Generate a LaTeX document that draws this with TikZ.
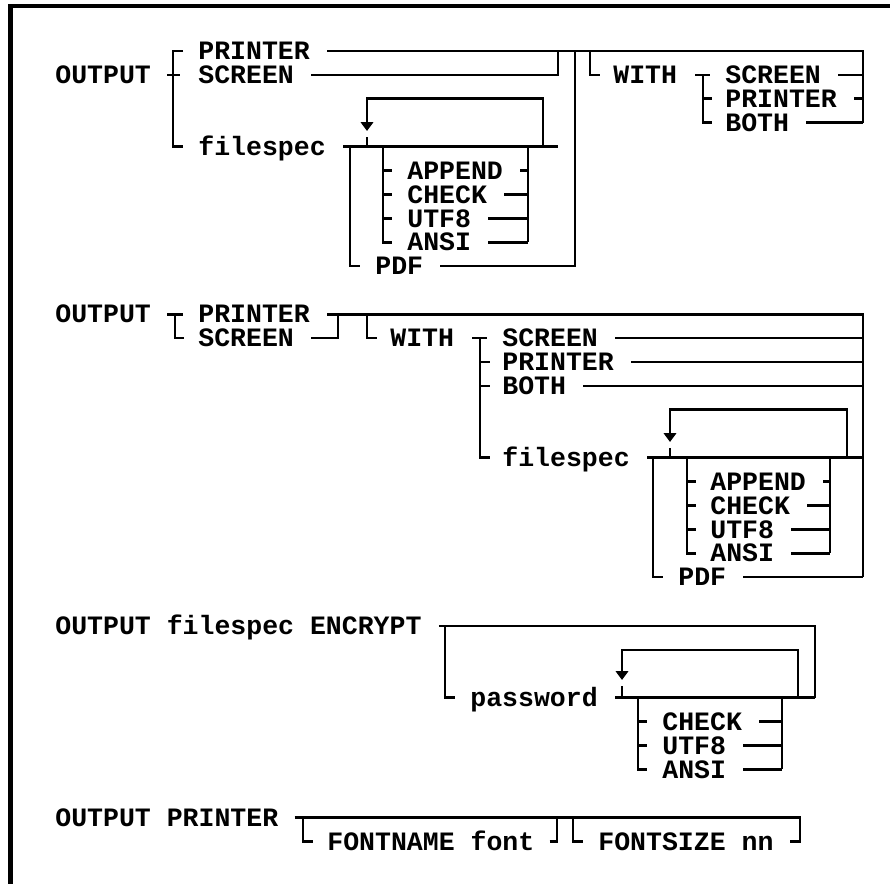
\documentclass[tikz,border=0pt]{standalone}
\usepackage{fontspec}
\usepackage{tikz}
\usetikzlibrary{arrows.meta}
\usetikzlibrary{math}
\newfontfamily\dosfamily{Liberation Mono}
\newcommand\kwfont{\dosfamily\bfseries\fontsize{15.1}{15.1}\selectfont}
\newlength\capht

\tikzset{
  kw/.style={font=\kwfont, inner sep=0pt, anchor=west, text height=\capht, text depth=0pt},
  rail/.style={line width=1.5pt, line join=miter},
  frame/.style={line width=2.3pt},
  loopback/.style={rail, -{Triangle[length=5pt,width=7pt]}},
}

\begin{document}
\settoheight{\capht}{\kwfont H}
\begin{tikzpicture}[x=0.02cm, y=-0.02cm]
\tikzmath{
\g=17;
}
\useasboundingbox (0,0) rectangle (890,884);
\draw[frame] (10.5,884) -- (10.5,6) -- (890,6);

% OUTPUT PRINTER | SCREEN | filespec ... [WITH ...]
\node[kw] (out1) at (55,74.9) {OUTPUT};
\node[kw] (pr1) at (198,51) {PRINTER};
\node[kw] (sc1) at (198,74.9) {SCREEN};
\node[kw] (fs1) at (198,146.6) {filespec};
\node[kw] (ap1) at (407,170.5) {APPEND};
\node[kw] (ch1) at (407,194.4) {CHECK};
\node[kw] (ut1) at (407,218.3) {UTF8};
\node[kw] (an1) at (407,242.2) {ANSI};
\node[kw] (pdf1) at (375,266.1) {PDF};
\node[kw] (wi1) at (613,74.9) {WITH};
\node[kw] (ws1) at (725,74.9) {SCREEN};
\node[kw] (wp1) at (725,98.8) {PRINTER};
\node[kw] (wb1) at (725,122.7) {BOTH};
\coordinate (k1) at (528,0);
\coordinate (l1) at (543,0);
\coordinate (j1) at (558,0);
\coordinate (p1) at (575,0);
\coordinate (b1) at (590,0);
\coordinate (e1) at (863,0);

\draw[rail] (183,51) -- (173,51) -- (173,146.6) -- (183,146.6);
\draw[rail] (out1.east) ++(16,0) -- ++(13,0);
\draw[rail] (pr1.east) ++(\g,0) -- (pr1.east -| e1) -- (wb1.east -| e1);
\draw[rail] (sc1.east) ++(\g,0) -- (sc1.east -| j1) -- (pr1.east -| j1);
\draw[rail] (fs1.east) ++(\g,0) -- (fs1.east -| j1);
\draw[rail] (pdf1.east) ++(\g,0) -- (pdf1.east -| p1) -- (pr1.east -| p1);
\draw[loopback] (fs1.east -| l1) -- (543,98.8) -- (367,98.8) -- (367,131);
\draw[rail] (367,137.5) -- (367,146.6);
\draw[rail] (350,146.6) -- (350,266.1) -- (360,266.1);
\draw[rail] (383,146.6) -- (383,242.2) -- (392,242.2);
\draw[rail] (383,170.5) -- ++(9,0) (383,194.4) -- ++(9,0) (383,218.3) -- ++(9,0);
\draw[rail] (fs1.east -| k1) -- (an1.east -| k1);
\draw[rail] (ap1.east) ++(\g,0) -- (ap1.east -| k1);
\draw[rail] (ch1.east) ++(\g,0) -- (ch1.east -| k1);
\draw[rail] (ut1.east) ++(\g,0) -- (ut1.east -| k1);
\draw[rail] (an1.east) ++(\g,0) -- (an1.east -| k1);
\draw[rail] (pr1.east -| b1) -- (sc1.east -| b1) -- ++(10,0);
\draw[rail] (wi1.east) ++(18,0) -- ++(15,0);
\draw[rail] (703,74.9) -- (703,122.7) -- (712,122.7);
\draw[rail] (703,98.8) -- (712,98.8);
\draw[rail] (ws1.east) ++(\g,0) -- (ws1.east -| e1);
\draw[rail] (wp1.east) ++(\g,0) -- (wp1.east -| e1);
\draw[rail] (wb1.east) ++(\g,0) -- (wb1.east -| e1);

% OUTPUT PRINTER | SCREEN [WITH ... filespec ...]
\node[kw] (out2) at (55,314.2) {OUTPUT};
\node[kw] (pr2) at (198,314.2) {PRINTER};
\node[kw] (sc2) at (198,338.1) {SCREEN};
\node[kw] (wi2) at (390,338.1) {WITH};
\node[kw] (ws2) at (502,338.1) {SCREEN};
\node[kw] (wp2) at (502,362) {PRINTER};
\node[kw] (wb2) at (502,385.9) {BOTH};
\node[kw] (fs2) at (502,457.6) {filespec};
\node[kw] (ap2) at (710,481.5) {APPEND};
\node[kw] (ch2) at (710,505.4) {CHECK};
\node[kw] (ut2) at (710,529.3) {UTF8};
\node[kw] (an2) at (710,553.2) {ANSI};
\node[kw] (pdf2) at (678,577.1) {PDF};
\coordinate (j2) at (338,0);
\coordinate (b2) at (367,0);
\coordinate (k2) at (830,0);
\coordinate (l2) at (847,0);
\coordinate (e2) at (863,0);

\draw[rail] (out2.east) ++(16,0) -- ++(16,0);
\draw[rail] (175,314.2) -- (175,338.1) -- (184,338.1);
\draw[rail] (pr2.east) ++(\g,0) -- (pr2.east -| e2) -- (pdf2.east -| e2);
\draw[rail] (sc2.east) ++(\g,0) -- (sc2.east -| j2) -- (pr2.east -| j2);
\draw[rail] (pr2.east -| b2) -- (sc2.east -| b2) -- ++(10,0);
\draw[rail] (wi2.east) ++(18,0) -- ++(15,0);
\draw[rail] (480,338.1) -- (480,457.6) -- (490,457.6);
\draw[rail] (480,362) -- (490,362) (480,385.9) -- (490,385.9);
\draw[rail] (ws2.east) ++(\g,0) -- (ws2.east -| e2);
\draw[rail] (wp2.east) ++(\g,0) -- (wp2.east -| e2);
\draw[rail] (wb2.east) ++(\g,0) -- (wb2.east -| e2);
\draw[rail] (fs2.east) ++(\g,0) -- (fs2.east -| e2);
\draw[rail] (pdf2.east) ++(\g,0) -- (pdf2.east -| e2);
\draw[loopback] (fs2.east -| l2) -- (847,409.8) -- (670,409.8) -- (670,442);
\draw[rail] (670,448.5) -- (670,457.6);
\draw[rail] (653,457.6) -- (653,577.1) -- (663,577.1);
\draw[rail] (687,457.6) -- (687,553.2) -- (696,553.2);
\draw[rail] (687,481.5) -- ++(9,0) (687,505.4) -- ++(9,0) (687,529.3) -- ++(9,0);
\draw[rail] (fs2.east -| k2) -- (an2.east -| k2);
\draw[rail] (ap2.east) ++(\g,0) -- (ap2.east -| k2);
\draw[rail] (ch2.east) ++(\g,0) -- (ch2.east -| k2);
\draw[rail] (ut2.east) ++(\g,0) -- (ut2.east -| k2);
\draw[rail] (an2.east) ++(\g,0) -- (an2.east -| k2);

% OUTPUT filespec ENCRYPT [password ...]
\node[kw] (enc3) at (55,626) {OUTPUT filespec ENCRYPT};
\node[kw] (pw3) at (470,697.7) {password};
\node[kw] (ch3) at (662,721.6) {CHECK};
\node[kw] (ut3) at (662,745.5) {UTF8};
\node[kw] (an3) at (662,769.4) {ANSI};
\coordinate (k3) at (782,0);
\coordinate (l3) at (798,0);
\coordinate (e3) at (815,0);

\draw[rail] (enc3.east) ++(\g,0) -- (enc3.east -| e3) -- (pw3.east -| e3);
\draw[rail] (445,626) -- (445,697.7) -- (455,697.7);
\draw[rail] (pw3.east) ++(\g,0) -- (pw3.east -| e3);
\draw[loopback] (pw3.east -| l3) -- (798,649.9) -- (622,649.9) -- (622,680);
\draw[rail] (622,686.5) -- (622,697.7);
\draw[rail] (638,697.7) -- (638,769.4) -- (647,769.4);
\draw[rail] (638,721.6) -- ++(9,0) (638,745.5) -- ++(9,0);
\draw[rail] (pw3.east -| k3) -- (an3.east -| k3);
\draw[rail] (ch3.east) ++(\g,0) -- (ch3.east -| k3);
\draw[rail] (ut3.east) ++(\g,0) -- (ut3.east -| k3);
\draw[rail] (an3.east) ++(\g,0) -- (an3.east -| k3);

% OUTPUT PRINTER [FONTNAME font] [FONTSIZE nn]
\node[kw] (op4) at (55,817.5) {OUTPUT PRINTER};
\node[kw] (fn4) at (327,841.4) {FONTNAME font};
\node[kw] (fz4) at (598,841.4) {FONTSIZE nn};
\coordinate (m4) at (557,0);
\coordinate (n4) at (573,0);
\coordinate (e4) at (800,0);

\draw[rail] (op4.east) ++(16,0) -- (op4.east -| e4) -- (fz4.east -| e4) -- ++(-10,0);
\draw[rail] (303,817.5) -- (303,841.4) -- (313,841.4);
\draw[rail] (fn4.east) ++(15,0) -- (fn4.east -| m4) -- (op4.east -| m4);
\draw[rail] (op4.east -| n4) -- (fz4.east -| n4) -- ++(10,0);
\end{tikzpicture}
\end{document}
